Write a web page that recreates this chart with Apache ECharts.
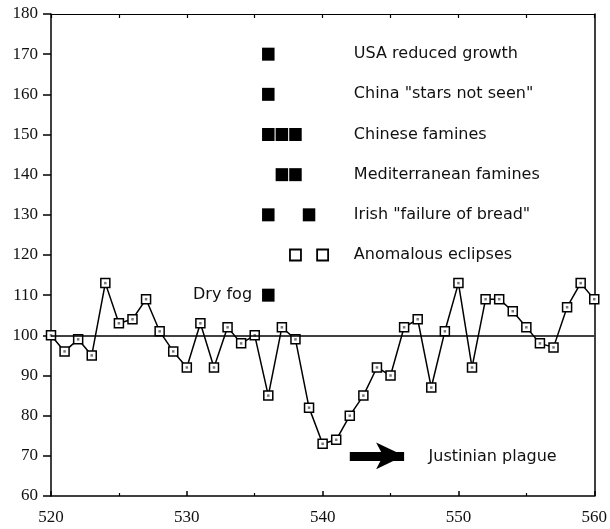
<!DOCTYPE html>
<html>
<head>
<meta charset="utf-8">
<script src="https://cdn.jsdelivr.net/npm/echarts@6/dist/echarts.min.js"></script>
<style>
  html, body { margin: 0; padding: 0; background: #fff; }
  #chart { width: 610px; height: 529px; }
</style>
</head>
<body>
<div id="chart"></div>
<script>
(function () {
    // tree-ring index, one value per year
    var years = [520, 521, 522, 523, 524, 525, 526, 527, 528, 529,
                 530, 531, 532, 533, 534, 535, 536, 537, 538, 539,
                 540, 541, 542, 543, 544, 545, 546, 547, 548, 549,
                 550, 551, 552, 553, 554, 555, 556, 557, 558, 559, 560];
    var ringIndex = [100, 96, 99, 95, 113, 103, 104, 109, 101, 96,
                     92, 103, 92, 102, 98, 100, 85, 102, 99, 82,
                     73, 74, 80, 85, 92, 90, 102, 104, 87, 101,
                     113, 92, 109, 109, 106, 102, 98, 97, 107, 113, 109];

    // historical events (filled squares)
    var eventYears  = [536, 536, 536, 537, 538, 537, 538, 536, 539, 536];
    var eventLevels = [170, 160, 150, 150, 150, 140, 140, 130, 130, 110];
    // anomalous eclipses (open squares)
    var eclipseYears = [538, 540];
    var eclipseLevel = 120;

    var eventNames  = ['USA reduced growth', 'China "stars not seen"', 'Chinese famines',
                       'Mediterranean famines', 'Irish "failure of bread"', 'Anomalous eclipses'];
    var nameLevels  = [170, 160, 150, 140, 130, 120];

    var plagueFrom = 542, plagueTo = 546, plagueLevel = 70;

    var labelYear = 542.3;
    var sans = '"DejaVu Sans", sans-serif';
    var serif = '"Liberation Serif", "DejaVu Serif", serif';

    var myChart = echarts.init(document.getElementById('chart'));

    var indexData = years.map(function (y, i) { return [y, ringIndex[i]]; });
    var eventData = eventYears.map(function (y, i) {
        var item = { value: [y, eventLevels[i]] };
        if (eventLevels[i] === 110) {
            item.label = { show: true, position: 'left', distance: 10, formatter: 'Dry fog',
                           color: '#111', fontFamily: sans, fontSize: 16 };
        }
        return item;
    });
    var eclipseData = eclipseYears.map(function (y) { return [y, eclipseLevel]; });
    var nameData = eventNames.map(function (n, i) { return { name: n, value: [labelYear, nameLevels[i]] }; });

    var option = {
        animation: false,
        backgroundColor: '#fff',
        grid: { left: 51, right: 13, top: 14, bottom: 33 },
        xAxis: [
            {
                type: 'value', min: 520, max: 560, interval: 10,
                axisLine: { show: true, lineStyle: { color: '#000', width: 1.5 } },
                axisTick: { show: true, inside: true, length: 5, lineStyle: { color: '#000', width: 1.5 } },
                minorTick: { show: true, splitNumber: 2, length: 3, lineStyle: { color: '#000', width: 1.2 } },
                axisLabel: { color: '#111', fontFamily: serif, fontSize: 17, margin: 13 },
                splitLine: { show: false }
            },
            {
                type: 'value', min: 520, max: 560, interval: 5, position: 'top',
                axisLine: { show: true, lineStyle: { color: '#000', width: 1.2 } },
                axisTick: { show: true, inside: true, length: 4, lineStyle: { color: '#000', width: 1.2 } },
                axisLabel: { show: false },
                splitLine: { show: false }
            }
        ],
        yAxis: [
            {
                type: 'value', min: 60, max: 180, interval: 10,
                axisLine: { show: true, lineStyle: { color: '#000', width: 1.5 } },
                axisTick: { show: true, length: 8, lineStyle: { color: '#000', width: 1.5 } },
                axisLabel: { color: '#111', fontFamily: serif, fontSize: 17, margin: 13 },
                splitLine: { show: false }
            },
            {
                type: 'value', min: 60, max: 180, interval: 10, position: 'right',
                axisLine: { show: true, lineStyle: { color: '#000', width: 1.5 } },
                axisTick: { show: false },
                axisLabel: { show: false },
                splitLine: { show: false }
            }
        ],
        series: [
            {
                name: 'Index',
                type: 'line',
                data: indexData,
                symbol: 'rect',
                symbolSize: 9,
                lineStyle: { color: '#000', width: 1.5 },
                itemStyle: { color: '#fff', borderColor: '#000', borderWidth: 1.5 },
                markLine: {
                    silent: true,
                    symbol: ['none', 'none'],
                    label: { show: false },
                    lineStyle: { color: '#000', width: 1.5, type: 'solid' },
                    data: [{ yAxis: 100 }]
                },
                z: 3
            },
            {
                name: 'dots',
                type: 'scatter',
                data: indexData,
                symbol: 'rect',
                symbolSize: 2.5,
                itemStyle: { color: '#777', opacity: 1 },
                silent: true,
                z: 4
            },
            {
                name: 'Events',
                type: 'scatter',
                data: eventData,
                symbol: 'rect',
                symbolSize: [12.5, 13],
                itemStyle: { color: '#000', opacity: 1 }
            },
            {
                name: 'Eclipses',
                type: 'scatter',
                data: eclipseData,
                symbol: 'rect',
                symbolSize: 11,
                itemStyle: { color: '#fff', borderColor: '#000', borderWidth: 1.8, opacity: 1 }
            },
            {
                name: 'Names',
                type: 'scatter',
                data: nameData,
                symbolSize: 0,
                silent: true,
                itemStyle: { opacity: 1 },
                label: {
                    show: true, position: 'right', distance: 0,
                    formatter: '{b}', color: '#111', fontFamily: sans, fontSize: 16
                }
            },
            {
                name: 'Plague',
                type: 'scatter',
                data: [{ name: 'Justinian plague', value: [plagueTo + 1.8, plagueLevel - 0.3] }],
                symbolSize: 0,
                silent: true,
                itemStyle: { opacity: 1 },
                label: {
                    show: true, position: 'right', distance: 0,
                    formatter: '{b}', color: '#111', fontFamily: sans, fontSize: 16
                },
                markLine: {
                    silent: true,
                    symbol: ['none', 'arrow'],
                    symbolSize: [20, 28],
                    label: { show: false },
                    lineStyle: { color: '#000', width: 9, type: 'solid' },
                    data: [[{ coord: [plagueFrom, plagueLevel] }, { coord: [plagueTo, plagueLevel] }]]
                }
            }
        ]
    };

    myChart.setOption(option);
    window.addEventListener('resize', function () {
        myChart.resize();
    });
})();
</script>
</body>
</html>
